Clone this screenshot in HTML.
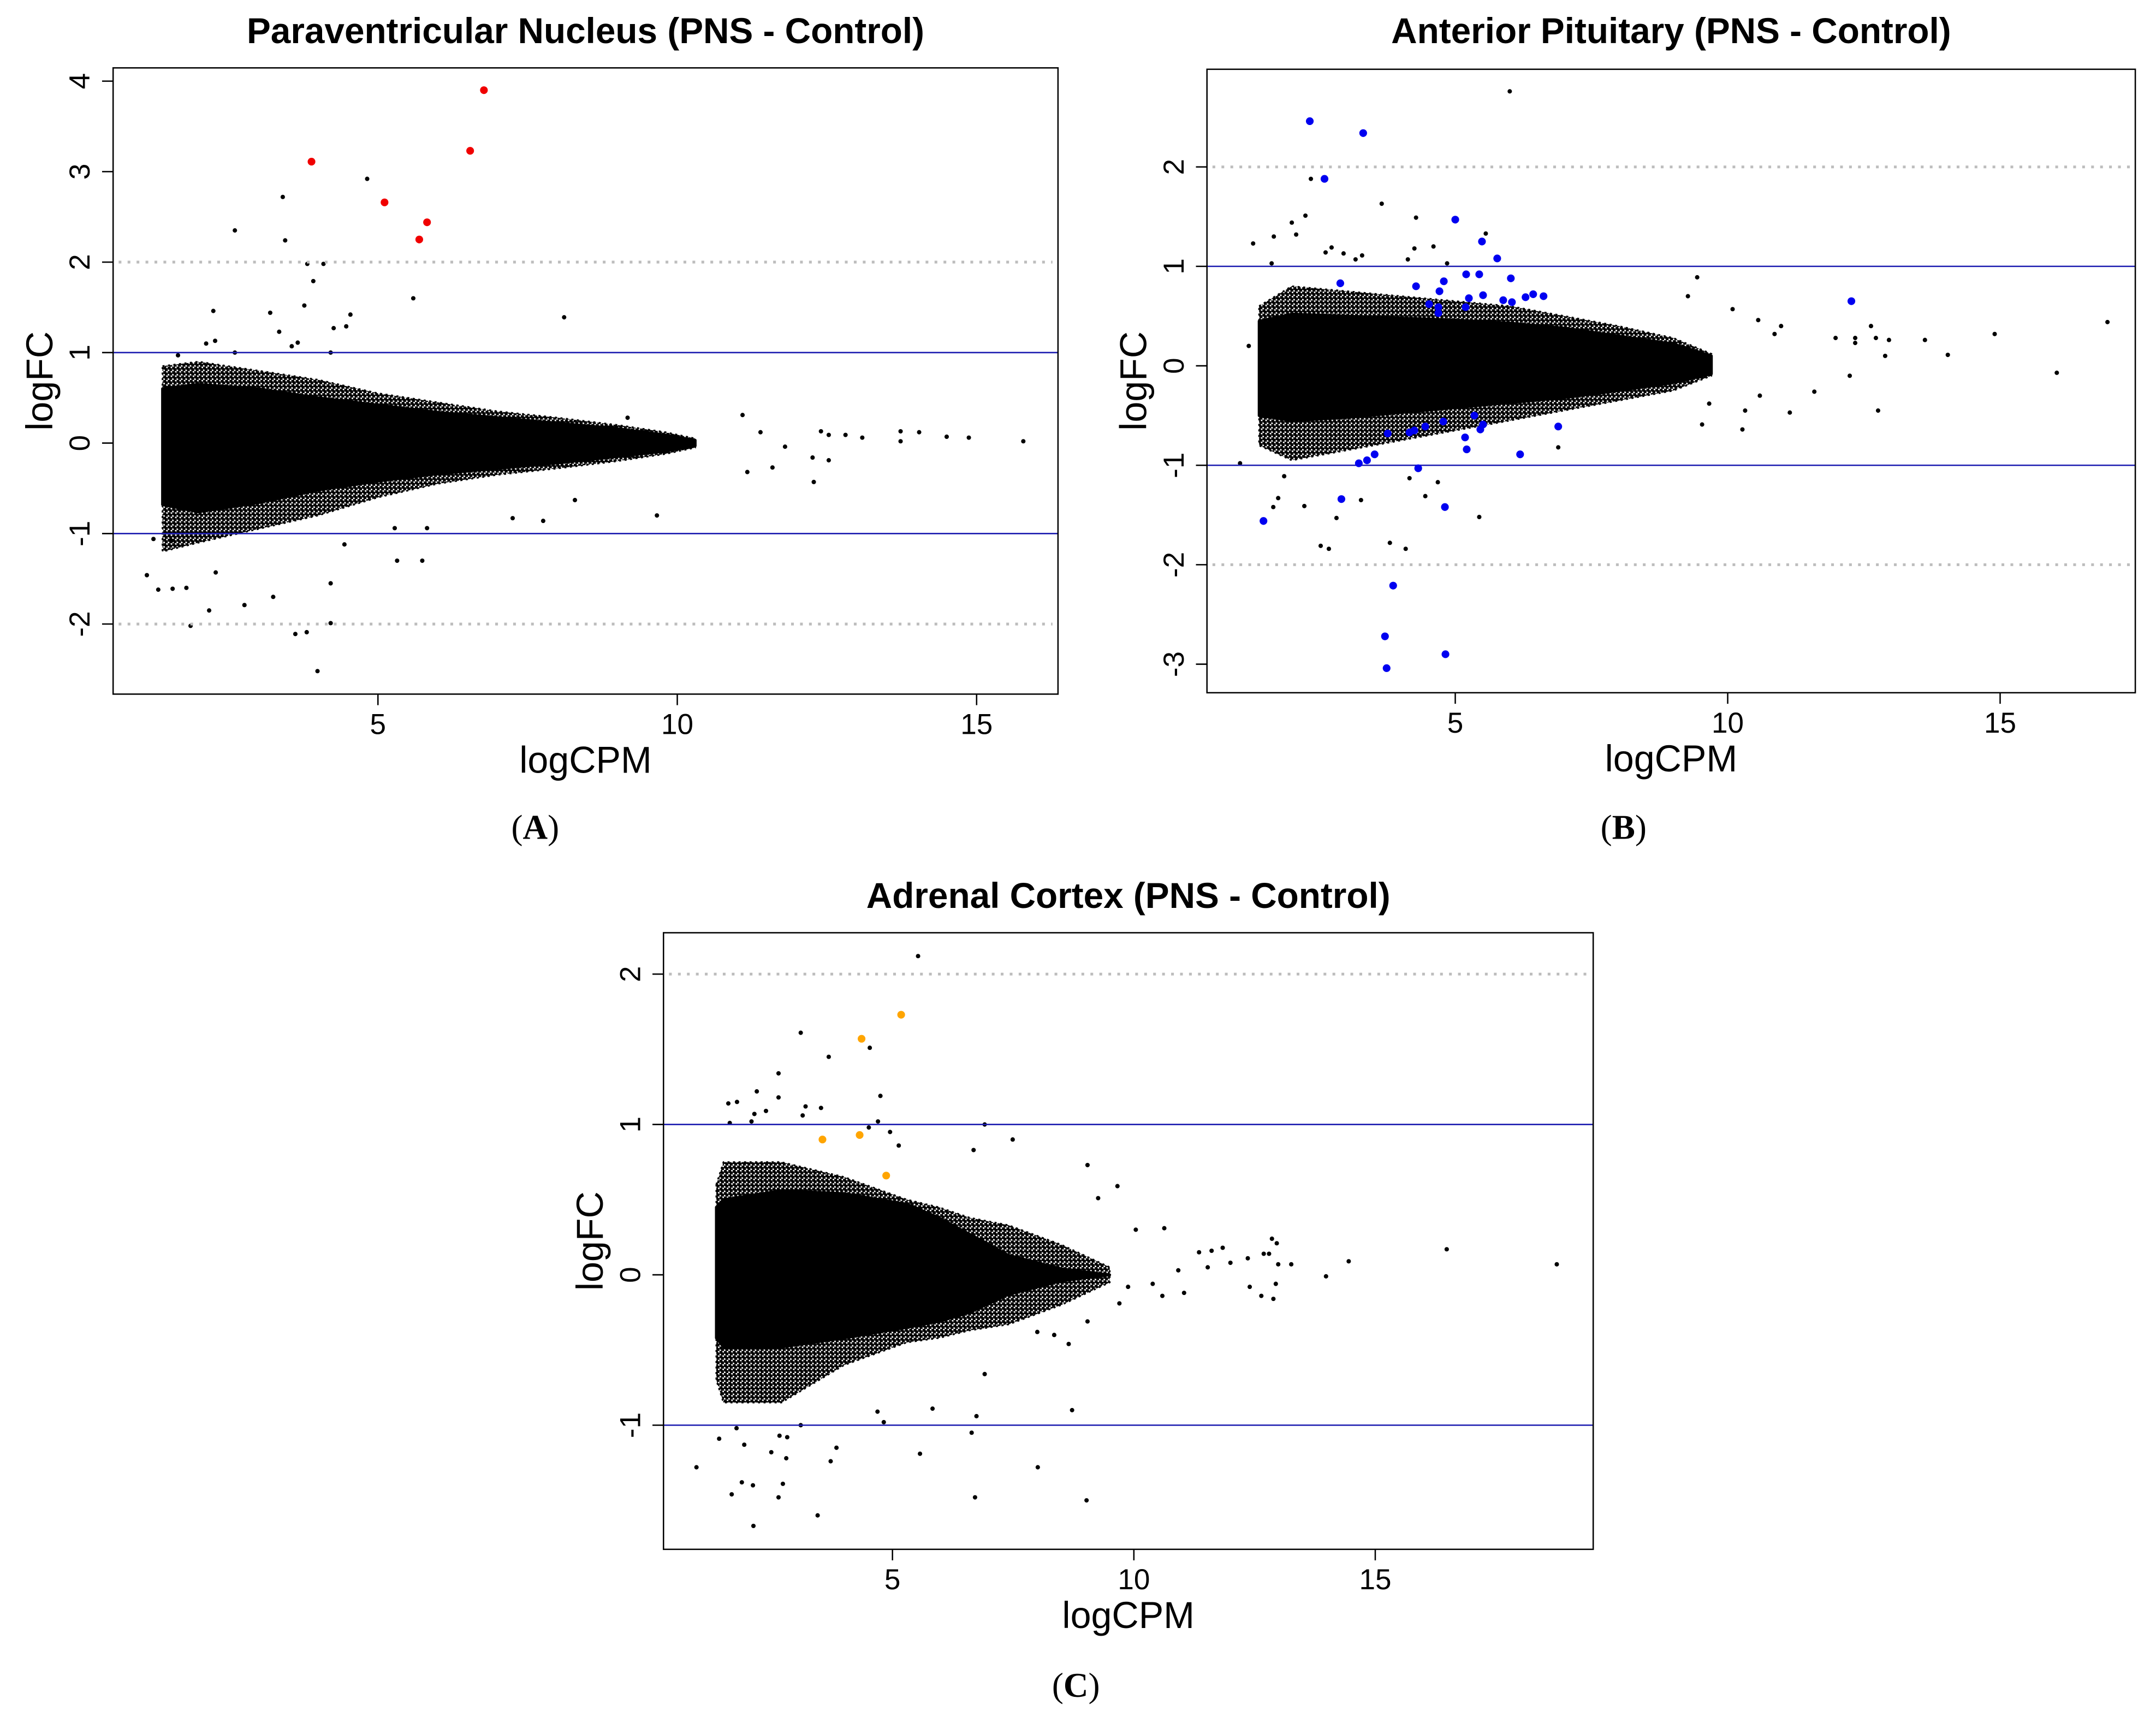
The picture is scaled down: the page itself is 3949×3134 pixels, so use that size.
<!DOCTYPE html>
<html><head><meta charset="utf-8"><style>
html,body{margin:0;padding:0;background:#fff;}
svg{display:block;}
</style></head><body>
<svg id="fig" width="3949" height="3134" viewBox="0 0 1563 1240" xmlns="http://www.w3.org/2000/svg">
<defs>
<pattern id="dots" patternUnits="userSpaceOnUse" width="3.2" height="3.2">
<circle cx="0.8" cy="0.8" r="1.35" fill="#000"/><circle cx="2.4" cy="2.4" r="1.35" fill="#000"/>
</pattern>
</defs>
</svg>
<script>
// ---------- Panel A data ----------
const aEnvX = [1.4,2,3,4,5,6,7,8,9,9.8,10.3];
const aCoreUp = [0.6,0.65,0.6,0.5,0.42,0.34,0.28,0.22,0.16,0.09,0.03];
const aCoreLo = [-0.68,-0.76,-0.66,-0.52,-0.42,-0.34,-0.28,-0.22,-0.15,-0.09,-0.03];
const aFringeUp = [0.85,0.9,0.8,0.7,0.55,0.45,0.35,0.28,0.2,0.12,0.05];
const aFringeLo = [-1.2,-1.1,-0.95,-0.8,-0.6,-0.45,-0.35,-0.28,-0.2,-0.12,-0.05];
const aSigX = [6.77,6.54,3.89,5.11,5.82,5.69];
const aSigY = [3.90,3.23,3.11,2.66,2.44,2.25];
const aOutX = [4.82,3.41,2.61,3.45,3.82,4.09,3.92,5.59,3.77,2.25,3.20,8.11,4.54,4.47,4.26,3.35,3.66,3.56,2.28,2.13,2.61,4.21,1.66,11.09,12.4,12.81,13.09,13.73,13.73,14.04,14.5,14.87,15.78,12.26,12.53,12.28,11.59,11.17,11.8,9.66,7.76,7.25,8.29,5.74,5.32,4.44,1.14,1.33,1.57,1.8,2.18,2.77,3.25,4.21,1.87,3.62,3.81,4.21,3.99,2.29,1.25,1.55,5.28,5.82,9.17,11.39,12.53];
const aOutY = [2.92,2.72,2.35,2.24,1.98,1.98,1.79,1.60,1.52,1.46,1.44,1.39,1.42,1.29,1.27,1.23,1.11,1.07,1.13,1.10,1.0,1.0,0.97,0.31,0.13,0.09,0.06,0.13,0.02,0.12,0.07,0.06,0.02,-0.16,-0.19,-0.43,-0.27,-0.32,-0.04,-0.80,-0.86,-0.83,-0.63,-1.30,-1.30,-1.12,-1.46,-1.62,-1.61,-1.60,-1.85,-1.79,-1.70,-1.55,-2.02,-2.11,-2.09,-1.99,-2.52,-1.43,-1.06,-1.08,-0.94,-0.94,0.28,0.12,0.09];
const aXTicks = [5,10,15];
const aYTicks = [-2,-1,0,1,2,3,4];

// ---------- Panel B data ----------
const bEnvX = [1.4,2,3,4,5,6,7,8,9,9.7];
const bCoreUp = [0.45,0.52,0.5,0.48,0.46,0.43,0.38,0.3,0.22,0.1];
const bCoreLo = [-0.5,-0.55,-0.52,-0.47,-0.42,-0.37,-0.32,-0.25,-0.17,-0.08];
const bFringeUp = [0.6,0.8,0.75,0.7,0.65,0.6,0.5,0.4,0.28,0.12];
const bFringeLo = [-0.8,-0.95,-0.85,-0.75,-0.65,-0.55,-0.45,-0.35,-0.25,-0.1];
const bSigX = [2.33,3.31,2.6,5.0,5.49,5.77,2.89,4.79,4.28,5.2,5.44,6.02,4.71,5.25,5.51,5.88,6.04,6.29,6.43,6.62,4.52,4.69,4.69,5.19,12.27,5.35,4.78,5.51,5.46,4.45,4.25,4.16,3.76,6.89,5.18,5.21,6.19,3.52,3.38,3.23,4.32,2.91,4.81,1.48,3.86,3.71,3.74,4.82];
const bSigY = [2.46,2.34,1.88,1.47,1.25,1.08,0.83,0.85,0.80,0.92,0.92,0.88,0.75,0.68,0.71,0.66,0.64,0.69,0.72,0.70,0.62,0.59,0.53,0.59,0.65,-0.50,-0.56,-0.59,-0.64,-0.61,-0.65,-0.67,-0.68,-0.61,-0.72,-0.84,-0.89,-0.89,-0.95,-0.98,-1.03,-1.34,-1.42,-1.56,-2.21,-2.72,-3.04,-2.90];
const bOutX = [6.0,2.35,3.65,2.25,4.28,2.0,2.08,1.67,1.29,5.56,4.6,4.25,2.73,2.62,2.95,3.29,3.17,4.13,1.63,4.85,9.44,9.27,10.09,10.56,10.98,10.86,12.63,11.98,12.34,12.34,12.72,12.96,13.62,12.89,14.04,14.9,16.97,16.04,12.24,11.59,10.59,12.76,11.14,10.32,9.66,9.53,10.27,6.89,5.44,4.68,4.45,4.16,3.27,2.82,2.23,1.66,1.75,2.53,2.68,3.8,4.09,1.05,1.21,1.86];
const bOutY = [2.76,1.88,1.63,1.51,1.49,1.44,1.32,1.3,1.23,1.33,1.2,1.18,1.19,1.14,1.13,1.11,1.07,1.07,1.03,1.03,0.89,0.70,0.57,0.46,0.4,0.32,0.4,0.28,0.28,0.23,0.28,0.26,0.26,0.1,0.11,0.32,0.44,-0.07,-0.1,-0.26,-0.3,-0.45,-0.47,-0.45,-0.38,-0.59,-0.64,-0.82,-1.52,-1.17,-1.31,-1.13,-1.35,-1.53,-1.41,-1.42,-1.33,-1.81,-1.84,-1.78,-1.84,-0.98,0.2,-1.11];
const bXTicks = [5,10,15];
const bYTicks = [-3,-2,-1,0,1,2];

// ---------- Panel C data ----------
const cEnvX = [1.35,1.5,2.7,4.0,5.3,5.96,6.6,7.4,8.5,9.5];
const cCoreUp = [0.45,0.5,0.56,0.54,0.47,0.38,0.27,0.13,0.04,0.0];
const cCoreLo = [-0.42,-0.48,-0.48,-0.42,-0.35,-0.31,-0.25,-0.13,-0.04,0.0];
const cFringeUp = [0.6,0.75,0.75,0.65,0.5,0.45,0.38,0.33,0.2,0.05];
const cFringeLo = [-0.7,-0.85,-0.85,-0.6,-0.45,-0.42,-0.37,-0.33,-0.2,-0.05];
const cSigX = [5.18,4.36,3.55,4.32,4.87];
const cSigY = [1.73,1.57,0.90,0.93,0.66];
const cOutX = [5.53,3.1,4.53,3.68,2.64,2.19,2.64,1.6,1.78,3.2,3.52,4.75,2.38,3.14,2.14,1.63,2.08,4.7,6.91,4.51,4.95,7.49,6.68,5.13,9.04,9.66,9.26,10.63,10.04,11.35,11.61,11.84,10.92,11.53,12.0,12.36,12.69,12.8,12.86,12.96,12.99,13.26,14.45,13.98,16.48,18.76,12.4,12.64,12.89,12.94,10.39,10.59,11.04,9.88,9.7,9.04,8.65,8.72,8.01,9.02,6.71,6.74,6.64,5.57,5.83,6.91,4.69,4.82,3.84,3.72,3.45,2.12,2.73,2.64,1.67,1.88,2.11,0.94,1.41,1.93,2.49,2.8,2.66,2.82,3.1,1.77,8.0,8.35];
const cOutY = [2.12,1.61,1.51,1.45,1.34,1.22,1.18,1.14,1.15,1.12,1.11,1.19,1.09,1.06,1.07,1.01,1.02,1.02,1.0,0.98,0.95,0.90,0.83,0.86,0.73,0.59,0.51,0.31,0.3,0.15,0.16,0.18,0.03,0.05,0.08,0.11,0.14,0.14,0.24,0.21,0.07,0.07,0.09,-0.01,0.17,0.07,-0.08,-0.14,-0.16,-0.06,-0.06,-0.14,-0.12,-0.08,-0.19,-0.31,-0.46,-0.9,-1.28,-1.5,-1.48,-0.94,-1.05,-1.19,-0.89,-0.66,-0.91,-0.98,-1.15,-1.24,-1.6,-1.67,-1.39,-1.48,-1.46,-1.38,-1.4,-1.28,-1.09,-1.13,-1.18,-1.22,-1.07,-1.08,-1.0,-1.02,-0.38,-0.4];
const cXTicks = [5,10,15];
const cYTicks = [-1,0,1,2];

const NS = 'http://www.w3.org/2000/svg';
const svg = document.getElementById('fig');
const SANS = '"Liberation Sans",Arial,sans-serif';
function mk(tag, attrs, parent, txt){
  const e = document.createElementNS(NS, tag);
  for (const k in attrs) e.setAttribute(k, attrs[k]);
  if (txt !== undefined) e.textContent = txt;
  (parent || svg).appendChild(e);
  return e;
}

function drawPanel(p){
  const g = mk('g', {});
  
  
  const sx = v => p.x5 + (v - 5) * p.xu;
  const sy = v => p.y0 - v * p.yu;
  const t = mk('text', {x:(p.left+p.right)/2, y:p.titleY, 'text-anchor':'middle', 'font-size':26, 'font-weight':'bold', 'font-family':SANS}, g, p.title);
  
  
  const poly = (up, lo) => {
    let pts = [];
    for (let i=0;i<p.envX.length;i++) pts.push(sx(p.envX[i]).toFixed(1)+','+sy(up[i]).toFixed(1));
    for (let i=p.envX.length-1;i>=0;i--) pts.push(sx(p.envX[i]).toFixed(1)+','+sy(lo[i]).toFixed(1));
    return pts.join(' ');
  };
  const fr = mk('polygon', {points:poly(p.fUp,p.fLo), fill:'url(#dots)', stroke:'#000', 'stroke-width':1.2, 'stroke-dasharray':'1.5 2.5'}, g);
  
  
  const core = mk('polygon', {points:poly(p.cUp,p.cLo), fill:'#000', stroke:'#000', 'stroke-width':2, 'stroke-linejoin':'round'}, g);
  
  
  for (let i=0;i<p.outX.length;i++){
    const c = mk('circle', {cx:sx(p.outX[i]), cy:sy(p.outY[i]), r:1.6, fill:'#000'}, g);
    
    
  }
  for (const v of [-1,1]){
    const l = mk('line', {x1:p.left, x2:p.right, y1:sy(v), y2:sy(v), stroke:'#1c1cb0', 'stroke-width':1}, g);
    
    
  }
  for (const v of p.dashed){
    const l = mk('line', {x1:p.left+4, x2:p.right-4, y1:sy(v), y2:sy(v), stroke:'#bdbdbd', 'stroke-width':2, 'stroke-dasharray':'2 4.5'}, g);
    
    
  }
  for (let i=0;i<p.sigX.length;i++){
    const c = mk('circle', {cx:sx(p.sigX[i]), cy:sy(p.sigY[i]), r:2.8, fill:p.color}, g);
    
    
  }
  const b = mk('rect', {x:p.left, y:p.top, width:p.right-p.left, height:p.bottom-p.top, fill:'none', stroke:'#000', 'stroke-width':1}, g);
  
  
  for (const v of p.xt){
    const x = sx(v);
    const tk = mk('line', {x1:x, x2:x, y1:p.bottom, y2:p.bottom+8, stroke:'#000', 'stroke-width':1}, g);
    
    
    const tl = mk('text', {x:x, y:p.bottom+29, 'text-anchor':'middle', 'font-size':21, 'font-family':SANS}, g, String(v));
    
    
  }
  for (const v of p.yt){
    const y = sy(v);
    const tk = mk('line', {x1:p.left-8, x2:p.left, y1:y, y2:y, stroke:'#000', 'stroke-width':1}, g);
    
    
    const lx = p.left - 17;
    const tl = mk('text', {x:lx, y:y, 'text-anchor':'middle', 'font-size':21, 'font-family':SANS, transform:'rotate(-90 '+lx+' '+y+')'}, g, String(v));
    
    
  }
  const xl = mk('text', {x:(p.left+p.right)/2, y:p.bottom+57, 'text-anchor':'middle', 'font-size':27, 'font-family':SANS}, g, 'logCPM');
  
  
  const yx = p.left - 44, yy = (p.top+p.bottom)/2;
  const yl = mk('text', {x:yx, y:yy, 'text-anchor':'middle', 'font-size':27, 'font-family':SANS, transform:'rotate(-90 '+yx+' '+yy+')'}, g, 'logFC');
  
  
  const pl = mk('text', {x:p.labX, y:p.labY, 'text-anchor':'middle', 'font-size':25, 'font-family':'"Liberation Serif",serif'}, g);
  mk('tspan', {}, pl, '(');
  mk('tspan', {'font-weight':'bold'}, pl, p.lab);
  mk('tspan', {}, pl, ')');
  
  
}

drawPanel({id:'paraventricular', title:'Paraventricular Nucleus (PNS - Control)', titleY:31,
  left:82, right:767, top:49, bottom:503, x5:274, xu:43.4, y0:321, yu:65.6,
  envX:aEnvX, cUp:aCoreUp, cLo:aCoreLo, fUp:aFringeUp, fLo:aFringeLo,
  outX:aOutX, outY:aOutY, sigX:aSigX, sigY:aSigY, color:'#f00000',
  xt:aXTicks, yt:aYTicks, dashed:[-2,2], lab:'A', labX:388, labY:608});
drawPanel({id:'anterior-pituitary', title:'Anterior Pituitary (PNS - Control)', titleY:31,
  left:875, right:1548, top:50, bottom:502, x5:1055, xu:39.5, y0:265, yu:72.1,
  envX:bEnvX, cUp:bCoreUp, cLo:bCoreLo, fUp:bFringeUp, fLo:bFringeLo,
  outX:bOutX, outY:bOutY, sigX:bSigX, sigY:bSigY, color:'#0000f0',
  xt:bXTicks, yt:bYTicks, dashed:[-2,2], lab:'B', labX:1177, labY:608});
drawPanel({id:'adrenal-cortex', title:'Adrenal Cortex (PNS - Control)', titleY:658,
  left:481, right:1155, top:676, bottom:1123, x5:647, xu:35, y0:924, yu:109,
  envX:cEnvX, cUp:cCoreUp, cLo:cCoreLo, fUp:cFringeUp, fLo:cFringeLo,
  outX:cOutX, outY:cOutY, sigX:cSigX, sigY:cSigY, color:'#ffa500',
  xt:cXTicks, yt:cYTicks, dashed:[2], lab:'C', labX:780, labY:1230});
</script>
</body></html>
